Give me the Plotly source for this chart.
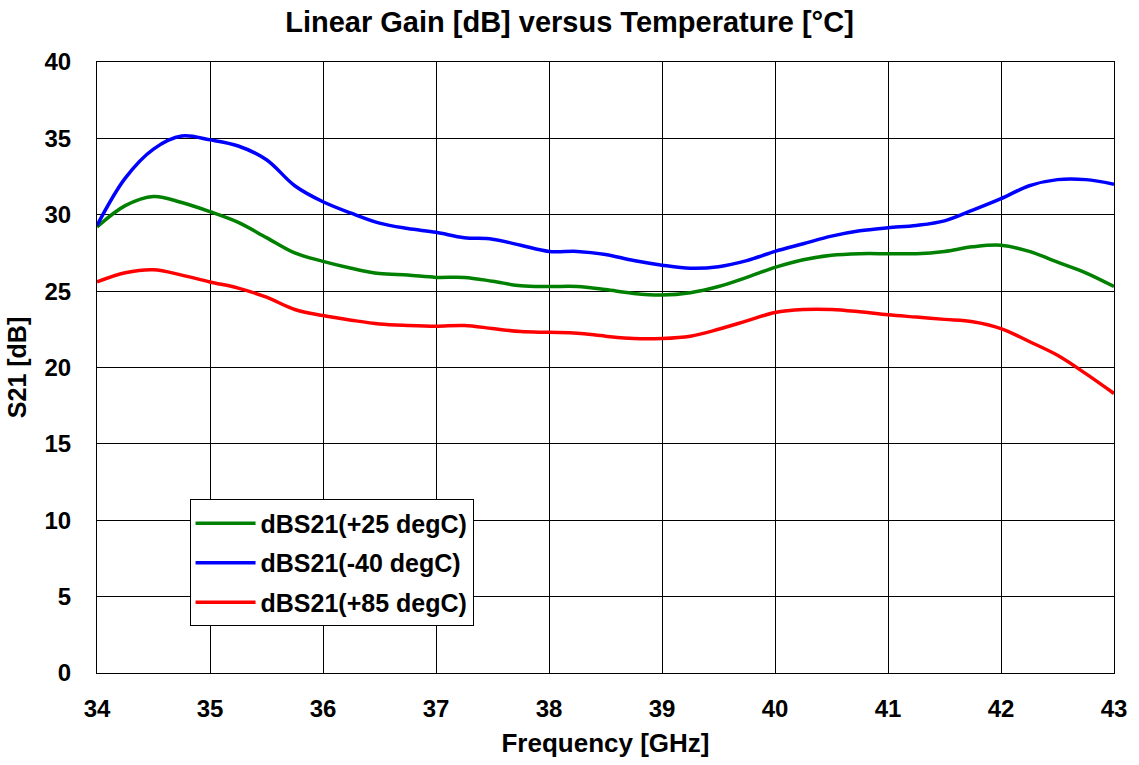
import plotly.graph_objects as go

freq = [34.0, 34.25, 34.5, 34.75, 35.0, 35.25, 35.5, 35.75, 36.0, 36.25, 36.5, 36.75,
        37.0, 37.25, 37.5, 37.75, 38.0, 38.25, 38.5, 38.75, 39.0, 39.25, 39.5, 39.75,
        40.0, 40.25, 40.5, 40.75, 41.0, 41.25, 41.5, 41.75, 42.0, 42.25, 42.5, 42.75, 43.0]

s21_p25 = [29.2, 30.6, 31.2, 30.8, 30.2, 29.5, 28.5, 27.5, 26.95, 26.5, 26.15, 26.05,
           25.9, 25.9, 25.65, 25.35, 25.3, 25.3, 25.1, 24.85, 24.75, 24.9, 25.3, 25.9,
           26.55, 27.05, 27.35, 27.45, 27.45, 27.45, 27.6, 27.9, 28.0, 27.6, 26.9, 26.2, 25.3]

s21_m40 = [29.3, 32.4, 34.3, 35.15, 34.9, 34.5, 33.6, 31.9, 30.85, 30.1, 29.45, 29.1,
           28.85, 28.5, 28.4, 28.0, 27.6, 27.6, 27.4, 27.0, 26.7, 26.5, 26.6, 27.0,
           27.6, 28.1, 28.6, 28.95, 29.15, 29.3, 29.6, 30.3, 31.05, 31.9, 32.3, 32.3, 32.0]

s21_p85 = [25.6, 26.2, 26.4, 26.05, 25.6, 25.2, 24.6, 23.8, 23.4, 23.1, 22.85, 22.75,
           22.7, 22.75, 22.55, 22.35, 22.3, 22.25, 22.05, 21.9, 21.9, 22.05, 22.5, 23.05,
           23.6, 23.8, 23.8, 23.65, 23.45, 23.3, 23.15, 23.0, 22.55, 21.7, 20.8, 19.6, 18.3]

x_ticks = [34, 35, 36, 37, 38, 39, 40, 41, 42, 43]
y_ticks = [0, 5, 10, 15, 20, 25, 30, 35, 40]

series = [
    ("dBS21(+25 degC)", s21_p25, "#008000"),
    ("dBS21(-40 degC)", s21_m40, "#0000FF"),
    ("dBS21(+85 degC)", s21_p85, "#FF0000"),
]

font_family = "Liberation Sans, Arial, sans-serif"

fig = go.Figure()
for i, (name, vals, col) in enumerate(series):
    fig.add_trace(go.Scatter(
        x=freq, y=vals, name=f"<b>{name}</b>", mode="lines", legendgroup=f"g{i}",
        line=dict(color=col, width=3.5, shape="spline", smoothing=1.0),
    ))

fig.update_layout(
    width=1139, height=765,
    margin=dict(l=97, r=20, t=62, b=91),
    paper_bgcolor="white", plot_bgcolor="white",
    font=dict(family=font_family, color="black"),
    title=dict(text="<b>Linear Gain [dB] versus Temperature [°C]</b>",
               x=0.5, xanchor="center", y=0.971, yanchor="middle",
               font=dict(size=29, family=font_family, color="black")),
    legend=dict(x=0.091, y=0.284, xanchor="left", yanchor="top",
                bgcolor="white", bordercolor="black", borderwidth=1,
                font=dict(size=25, family=font_family, color="black"),
                tracegroupgap=4, itemwidth=60),
    showlegend=True,
)

fig.update_xaxes(
    range=[34, 43], tickvals=x_ticks, ticktext=[f"<b>{t}</b>" for t in x_ticks],
    tickfont=dict(size=24, family=font_family, color="black"),
    ticklabelstandoff=14,
    title=dict(text="<b>Frequency [GHz]</b>", font=dict(size=26, family=font_family, color="black"), standoff=13),
    showgrid=True, gridcolor="black", gridwidth=1,
    showline=True, linecolor="black", linewidth=1, mirror=True,
    ticks="", zeroline=False,
)
fig.update_yaxes(
    range=[0, 40], tickvals=y_ticks, ticktext=[f"<b>{t}</b>" for t in y_ticks],
    tickfont=dict(size=24, family=font_family, color="black"),
    ticklabelstandoff=20,
    title=dict(text="<b>S21 [dB]</b>", font=dict(size=25, family=font_family, color="black"), standoff=10),
    showgrid=True, gridcolor="black", gridwidth=1,
    showline=True, linecolor="black", linewidth=1, mirror=True,
    ticks="", zeroline=False,
)

fig.write_html("out.html")
